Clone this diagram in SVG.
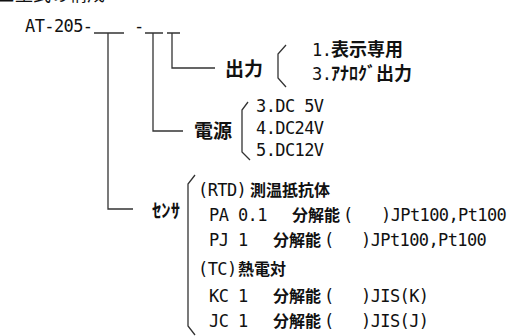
<svg xmlns="http://www.w3.org/2000/svg" width="510" height="336" viewBox="0 0 510 336">
<style>
.bg{fill:#fff}
text{fill:#111}
.lat{font-family:"DejaVu Sans Mono","Liberation Mono",monospace;font-size:17px;letter-spacing:-0.6px}
.cjk{font-family:"Noto Sans CJK JP",sans-serif;font-weight:bold}
.h{font-size:19px}
.o{font-size:18px}
.b{font-size:16px}
.ln{fill:none;stroke:#333;stroke-width:1.3}
</style>
<rect class="bg" x="0" y="0" width="510" height="336"/>
<text class="cjk o" x="-3" y="1" style="font-weight:normal">■型式の構成</text>
<g id="model">
<text class="lat" x="25" y="32">AT-205-</text>
<text class="lat" x="134" y="32">-</text>
</g>
<g id="connectors">
<path class="ln" d="M94,33 H124 M108,33 V209 H133"/>
<path class="ln" d="M145,33 H163 M153,33 V131 H183"/>
<path class="ln" d="M167,33 H180 M172,33 V68 H215"/>
<path class="ln" d="M286,45 L278,54 L278,78 L286,87"/>
<path class="ln" d="M248,102 L242,110 L242,152 L250,160"/>
<path class="ln" d="M195,175 L188,184 L188,326 L195,335"/>
</g>
<g id="output">
<text class="cjk h" x="225" y="76">出力</text>
<text x="312" y="56"><tspan class="lat">1.</tspan><tspan class="cjk o" x="331">表示専用</tspan></text>
<text x="312" y="80"><tspan class="lat">3.</tspan><tspan class="cjk o" x="331">ｱﾅﾛｸﾞ出力</tspan></text>
</g>
<g id="power">
<text class="cjk h" x="194" y="138">電源</text>
<text class="lat" x="256" y="112">3.DC 5V</text>
<text class="lat" x="256" y="134">4.DC24V</text>
<text class="lat" x="256" y="156">5.DC12V</text>
</g>
<g id="sensor">
<text class="cjk h" x="152" y="218" textLength="28" lengthAdjust="spacingAndGlyphs">ｾﾝｻ</text>
<text x="198" y="196"><tspan class="lat">(RTD)</tspan><tspan class="cjk b" x="250">測温抵抗体</tspan></text>
<text x="209" y="221"><tspan class="lat">PA 0.1</tspan><tspan class="cjk b" x="292">分解能</tspan><tspan class="lat" x="343">(</tspan><tspan class="lat" x="381">)JPt100,Pt100</tspan></text>
<text x="209" y="246"><tspan class="lat">PJ 1</tspan><tspan class="cjk b" x="273">分解能</tspan><tspan class="lat" x="324">(</tspan><tspan class="lat" x="361">)JPt100,Pt100</tspan></text>
<text x="198" y="275"><tspan class="lat">(TC)</tspan><tspan class="cjk b" x="238">熱電対</tspan></text>
<text x="209" y="302"><tspan class="lat">KC 1</tspan><tspan class="cjk b" x="273">分解能</tspan><tspan class="lat" x="324">(</tspan><tspan class="lat" x="361">)JIS(K)</tspan></text>
<text x="209" y="327"><tspan class="lat">JC 1</tspan><tspan class="cjk b" x="273">分解能</tspan><tspan class="lat" x="324">(</tspan><tspan class="lat" x="361">)JIS(J)</tspan></text>
</g>
</svg>
